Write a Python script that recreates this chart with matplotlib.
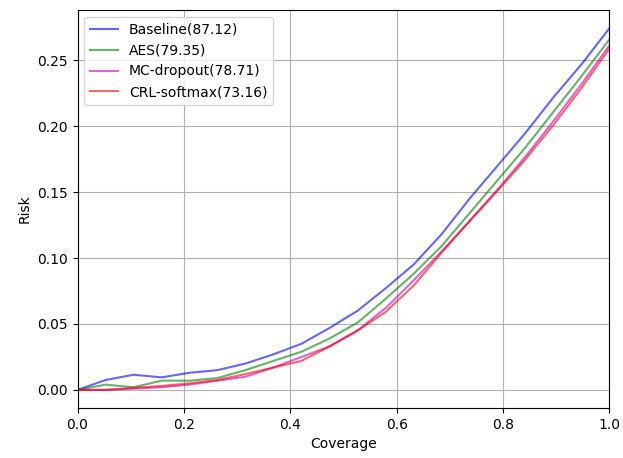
import numpy as np
import matplotlib
matplotlib.use('Agg')
import matplotlib.pyplot as plt

# coverage points
coverage = np.linspace(0, 1, 20)

baseline = [0.0, 0.0075, 0.0115, 0.0095, 0.013, 0.015, 0.020, 0.027, 0.035, 0.047,
            0.060, 0.077, 0.095, 0.118, 0.145, 0.170, 0.195, 0.222, 0.247, 0.2745]
aes = [0.0, 0.004, 0.002, 0.007, 0.007, 0.009, 0.015, 0.022, 0.029, 0.039,
       0.051, 0.069, 0.088, 0.109, 0.134, 0.159, 0.184, 0.211, 0.238, 0.266]
mc_dropout = [0.0, 0.0, 0.001, 0.002, 0.004, 0.007, 0.010, 0.017, 0.025, 0.033,
              0.045, 0.062, 0.083, 0.105, 0.128, 0.152, 0.177, 0.204, 0.232, 0.2615]
crl_softmax = [0.0, 0.0, 0.0015, 0.003, 0.005, 0.0075, 0.012, 0.017, 0.022, 0.033,
               0.045, 0.059, 0.079, 0.104, 0.128, 0.151, 0.175, 0.201, 0.229, 0.259]

labels = ['Baseline(87.12)', 'AES(79.35)', 'MC-dropout(78.71)', 'CRL-softmax(73.16)']
colors = ['b', 'g', 'm', 'r']

fig = plt.figure(figsize=(6.23, 4.58), dpi=100)
ax = fig.add_axes([0.1244, 0.1092, 0.8539, 0.869])

for series, label, c in zip([baseline, aes, mc_dropout, crl_softmax], labels, colors):
    ax.plot(coverage, series, color=c, alpha=0.6, label=label)

ax.set_xlim(0, 1)
ax.grid(True)
ax.legend(loc='upper left')
ax.set_xlabel('Coverage')
ax.set_ylabel('Risk')

fig.savefig('out.png', dpi=100)
